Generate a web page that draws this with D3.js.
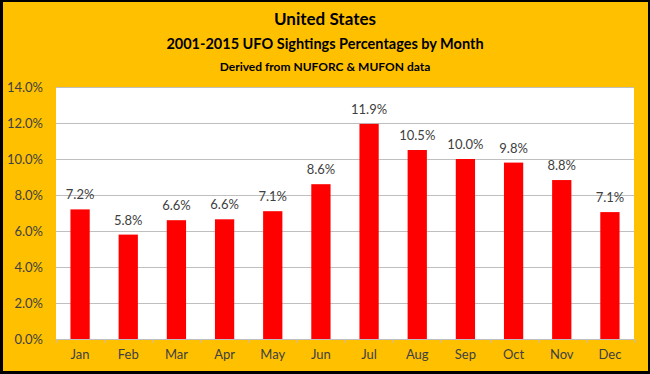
<!DOCTYPE html>
<html><head><meta charset="utf-8">
<script src="https://cdn.jsdelivr.net/npm/d3@7"></script>
<style>
html,body{margin:0;padding:0;background:#000;}
svg{display:block;}
</style></head>
<body>
<script>
const months = ["Jan","Feb","Mar","Apr","May","Jun","Jul","Aug","Sep","Oct","Nov","Dec"];
const values = [7.2, 5.8, 6.6, 6.65, 7.1, 8.6, 11.95, 10.5, 10.0, 9.8, 8.83, 7.05];
const labels = ["7.2%","5.8%","6.6%","6.6%","7.1%","8.6%","11.9%","10.5%","10.0%","9.8%","8.8%","7.1%"];
const yTicks = [0,2,4,6,8,10,12,14];
const titles = ["United States","2001-2015 UFO Sightings Percentages by Month","Derived from NUFORC & MUFON data"];

const W = 650, H = 374;
const font = "Lato, 'Open Sans', sans-serif";
const svg = d3.select("body").append("svg").attr("width", W).attr("height", H);
svg.append("rect").attr("width", W).attr("height", H).attr("fill", "#000");
svg.append("rect").attr("x", 3).attr("y", 2).attr("width", W - 5).attr("height", H - 5).attr("fill", "#FFC000");

const pl = 56, pr = 634, pt = 87, pb = 339;
const x = d3.scaleBand().domain(months).range([pl, pr]).paddingInner(0.6).paddingOuter(0.3);
const y = d3.scaleLinear().domain([0, 14]).range([pb, pt]);

svg.append("rect").attr("x", pl).attr("y", pt).attr("width", pr - pl).attr("height", pb - pt).attr("fill", "#fff");

// gridlines
svg.append("g").selectAll("line").data(yTicks.slice(1)).join("line")
  .attr("x1", pl).attr("x2", pr).attr("y1", d => Math.round(y(d)) + 0.5).attr("y2", d => Math.round(y(d)) + 0.5)
  .attr("stroke", "#bfbfbf").attr("stroke-width", 1);

// y axis labels
const ya = svg.append("g").attr("transform", `translate(${pl},0)`)
  .call(d3.axisLeft(y).tickValues(yTicks).tickSize(0).tickPadding(13).tickFormat(d => d.toFixed(1) + "%"));
ya.select(".domain").remove();
ya.selectAll("text").attr("font-family", font).attr("font-size", 13).attr("fill", "#404040");

// bars
svg.append("g").selectAll("rect").data(values).join("rect")
  .attr("x", (d, i) => x(months[i])).attr("width", x.bandwidth())
  .attr("y", d => y(d)).attr("height", d => y(0) - y(d)).attr("fill", "#FF0000");

// x axis
const band = d3.scaleBand().domain(months).range([pl, pr]);
const xa = svg.append("g").attr("transform", `translate(0,${pb})`)
  .call(d3.axisBottom(band).tickSize(0).tickPadding(11));
xa.select(".domain").attr("stroke", "#bfbfbf").attr("d", `M${pl},0.5H${pr}`);
xa.selectAll("text").attr("font-family", font).attr("font-size", 13).attr("fill", "#404040");
svg.append("g").selectAll("line").data(d3.range(13)).join("line")
  .attr("x1", i => Math.round(pl + i * band.step()) + 0.5).attr("x2", i => Math.round(pl + i * band.step()) + 0.5)
  .attr("y1", pb).attr("y2", pb + 4).attr("stroke", "#bfbfbf");

// data labels
svg.append("g").selectAll("text").data(values).join("text")
  .attr("x", (d, i) => x(months[i]) + x.bandwidth() / 2).attr("y", d => y(d) - 10)
  .attr("text-anchor", "middle").attr("font-family", font).attr("font-size", 13).attr("fill", "#404040")
  .text((d, i) => labels[i]);

// titles
const tsize = [17, 14.5, 12], ty = [25, 49, 71];
svg.append("g").selectAll("text").data(titles).join("text")
  .attr("x", W / 2).attr("y", (d, i) => ty[i]).attr("text-anchor", "middle")
  .attr("font-family", font).attr("font-weight", "bold").attr("font-size", (d, i) => tsize[i])
  .attr("fill", "#000").text(d => d);
</script>
</body></html>
